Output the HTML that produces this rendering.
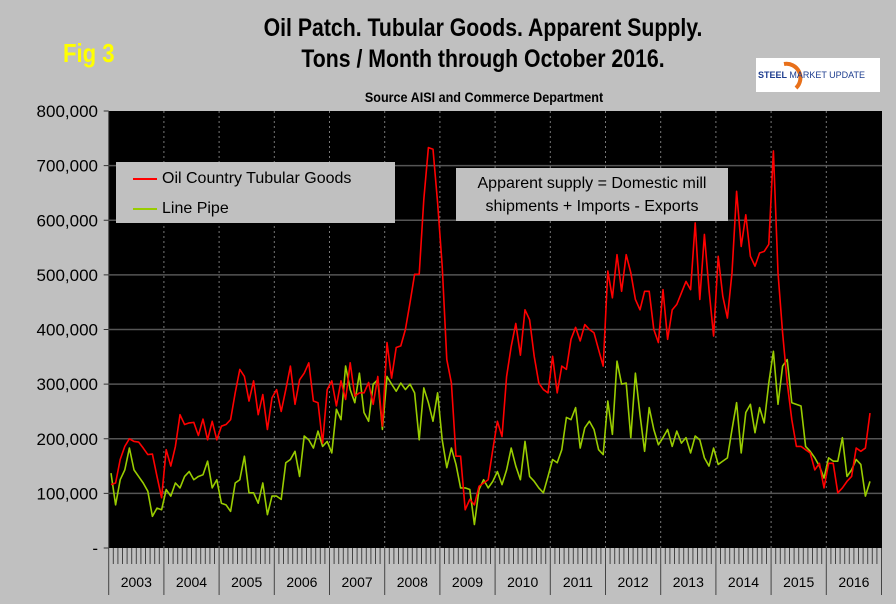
<!DOCTYPE html>
<html><head><meta charset="utf-8">
<style>
body{margin:0;width:896px;height:604px;background:#c0c0c0;overflow:hidden;font-family:"Liberation Sans",sans-serif}
.t{position:absolute;font-weight:bold;white-space:nowrap}
</style></head><body>
<div class="t" style="left:483px;top:14px;font-size:25px;transform:translateX(-50%) scaleX(0.85)">Oil Patch. Tubular Goods. Apparent Supply.</div>
<div class="t" style="left:483px;top:45px;font-size:25px;transform:translateX(-50%) scaleX(0.85)">Tons / Month through October 2016.</div>
<div class="t" style="left:63px;top:38px;font-size:26px;color:#ffff00;transform:scaleX(0.85);transform-origin:left">Fig 3</div>
<div style="position:absolute;left:756px;top:58px;width:124px;height:34px;background:#fff">
 <svg width="124" height="34"><path d="M28 6 A14 14 0 0 1 40 30" stroke="#e8701a" stroke-width="4" fill="none"/></svg>
 <div class="t" style="left:2px;top:12px;font-size:9px;color:#1d3d8f">STEEL <span style="font-weight:normal">MARKET UPDATE</span></div>
</div>
<div class="t" style="left:484px;top:89px;font-size:14px;transform:translateX(-50%) scaleX(0.9)">Source AISI and Commerce Department</div>
<svg id="c" width="896" height="604" style="position:absolute;left:0;top:0"></svg>
<div style="position:absolute;left:116px;top:162px;width:279px;height:61px;background:#c0c0c0">
 <div style="position:absolute;left:17px;top:8px;font-size:16px"><span style="display:inline-block;width:24px;height:2px;background:#ff0000;vertical-align:middle;margin-right:5px"></span>Oil Country Tubular Goods</div>
 <div style="position:absolute;left:17px;top:38px;font-size:16px"><span style="display:inline-block;width:24px;height:2px;background:#99cc00;vertical-align:middle;margin-right:5px"></span>Line Pipe</div>
</div>
<div style="position:absolute;left:456px;top:168px;width:272px;height:53px;background:#c0c0c0;font-size:16px;text-align:center;line-height:23px;padding-top:4px;box-sizing:border-box">Apparent supply = Domestic mill<br>shipments + Imports - Exports</div>
<script>
const years=["2003","2004","2005","2006","2007","2008","2009","2010","2011","2012","2013","2014","2015","2016"];
const yTicks=[0,100000,200000,300000,400000,500000,600000,700000,800000];
const yTickLabels=["-","100,000","200,000","300,000","400,000","500,000","600,000","700,000","800,000"];
const octg=[116,119,162,186,200,195,194,183,171,172,131,92,
180,150,186,244,226,229,230,206,236,198,232,198,
223,226,235,284,327,314,269,306,244,281,217,275,
290,250,290,333,263,308,320,339,269,266,192,290,
306,260,306,272,339,278,284,284,303,263,314,223,
376,311,367,370,400,449,501,501,638,733,730,632,
516,345,302,168,168,70,89,79,113,119,125,180,
232,204,314,369,411,353,436,418,351,302,290,284,
351,284,333,327,382,404,379,409,400,394,363,333,
507,458,537,470,537,504,455,436,470,470,400,376,
473,382,436,446,467,488,473,595,455,574,473,388,
534,461,421,504,653,552,610,534,516,540,543,556,
727,504,394,302,235,186,186,180,174,143,155,110,
155,155,101,110,122,131,183,177,183,247];
const linePipe=[137,79,125,143,183,143,131,119,104,58,73,70,
107,95,119,110,131,140,125,131,134,159,110,125,
82,79,67,119,125,168,101,101,82,119,61,95,
95,89,156,162,177,131,205,198,183,214,186,195,
174,254,235,333,290,266,320,248,232,300,308,217,
314,300,287,302,290,300,284,198,293,266,232,284,
198,147,183,153,110,110,107,43,107,125,110,122,
140,116,143,183,150,125,195,131,122,110,101,131,
162,156,180,239,235,257,183,220,232,217,180,171,
269,208,342,300,302,202,320,244,177,257,217,189,
202,217,186,214,192,202,174,205,198,165,150,183,
153,159,165,217,266,174,248,263,211,257,229,302,
360,263,333,345,266,263,260,186,177,165,150,128,
165,159,159,202,131,143,162,153,95,122];
const svg=document.getElementById('c');const NS='http://www.w3.org/2000/svg';
const L=108.7,R=882,T=111,B=548,YW=55.2,MW=YW/12;
const y=v=>B-(v/800000)*(B-T);
const x=i=>L+(i+0.5)*MW;
function el(n,a){const e=document.createElementNS(NS,n);for(const k in a)e.setAttribute(k,a[k]);svg.appendChild(e);return e;}
const bg=el('rect',{x:L,y:T,width:R-L,height:B-T,fill:'#000'});


yTicks.forEach((v,i)=>{
 if(v>0&&v<800000){const g=el('line',{x1:L,x2:R,y1:y(v),y2:y(v),stroke:'#555','stroke-width':1.5});
 
 }
 el('line',{x1:L-5,x2:L,y1:y(v),y2:y(v),stroke:'#333'});
 const t=el('text',{x:98,y:y(v)+6,'text-anchor':'end','font-size':17,'font-family':'Liberation Sans, sans-serif'});
 t.textContent=yTickLabels[i];
 
 
});
el('line',{x1:L,x2:L,y1:T,y2:595,stroke:'#444'});
years.forEach((yr,k)=>{
 const x0=L+k*YW;
 if(k>0){const g=el('line',{x1:x0,x2:x0,y1:T,y2:B,stroke:'#777','stroke-dasharray':'2,3'});
 
 }
 el('line',{x1:x0+YW,x2:x0+YW,y1:B,y2:595,stroke:'#444'});
 for(let m=1;m<12;m++)el('line',{x1:x0+m*MW,x2:x0+m*MW,y1:B,y2:B+16,stroke:'#444'});
 const t=el('text',{x:x0+YW/2,y:587,'text-anchor':'middle','font-size':14,'font-family':'Liberation Sans, sans-serif'});
 t.textContent=yr;
 
 
});
function line(d,c,n){const p=el('polyline',{points:d.map((v,i)=>x(i)+','+y(v*1000)).join(' '),fill:'none',stroke:c,'stroke-width':1.6,'stroke-linejoin':'round'});
 
 }
line(linePipe,'#99cc00','line-pipe-series');
line(octg,'#ff0000','octg-series');
</script>
</body></html>
